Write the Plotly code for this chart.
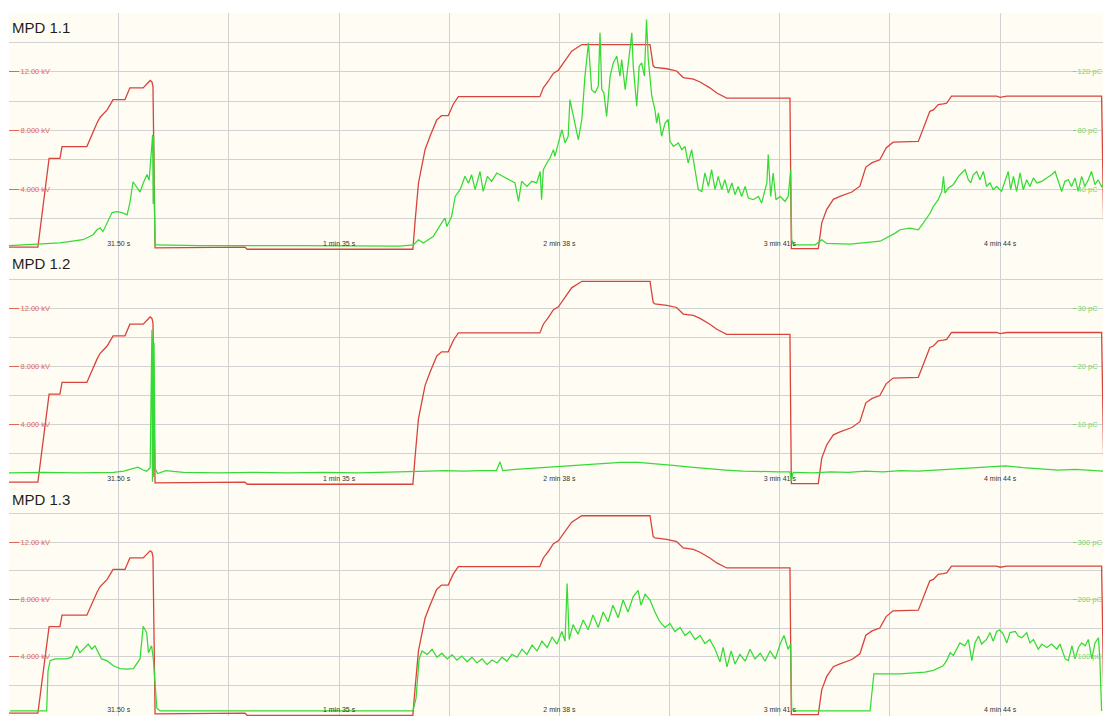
import plotly.graph_objects as go

# ---- shared high-voltage ramp (kV) -------------------------------------
t_hv = [0.0, 8.4, 11.6, 14.7, 15.3, 22.4, 25.3, 26.2, 28.2, 29.9, 33.3, 34.7, 38.5,
        39.9, 40.5, 41.0, 41.3, 41.9, 67.6, 68.2, 115.6, 116.2, 117.2, 118.1, 119.1,
        120.5, 122.4, 123.8, 125.7, 127.2, 128.6, 151.9, 152.9, 154.3, 155.8, 157.2,
        161.0, 163.9, 183.4, 184.3, 184.8, 188.2, 191.0, 192.9, 195.8, 197.7, 200.5,
        202.5, 205.3, 223.4, 223.8, 231.5, 232.5, 233.9, 235.8, 237.7, 241.1, 243.4,
        245.1, 246.9, 249.1, 250.9, 252.9, 260.1, 262.0, 263.4, 264.4, 265.8, 267.2,
        268.2, 269.6, 282.5, 283.5, 285.4, 312.5, 312.8, 313.2]
hv_kv = [0.05, 0.05, 6.1, 6.1, 6.9, 6.9, 8.5, 8.9, 9.4, 10.1, 10.1, 10.9, 10.9,
         11.3, 11.4, 11.3, 11.0, 0.0, 0.05, -0.1, -0.1, 1.7, 4.4, 5.5, 6.7,
         7.6, 8.7, 9.0, 9.0, 9.8, 10.3, 10.3, 10.9, 11.35, 11.9, 12.1,
         13.4, 13.85, 13.85, 12.4, 12.3, 12.2, 12.05, 11.6, 11.5, 11.3, 10.9,
         10.55, 10.2, 10.2, -0.05, -0.05, 1.7, 2.6, 3.3, 3.5, 3.8, 4.2,
         5.5, 5.8, 6.0, 6.8, 7.2, 7.25, 8.4, 9.3, 9.4, 9.76, 9.8,
         9.85, 10.33, 10.33, 10.25, 10.33, 10.33, 5.0, 0.0]

# ---- partial discharge, MPD 1.1 (pC) ------------------------------------
t_pd1 = [0.1, 14.7, 21.3, 24.2, 25.3, 26.2, 27.0, 28.2, 29.6, 31.0, 32.4, 33.9, 34.7,
         35.6, 36.7, 37.6, 38.5, 39.6, 40.2, 41.0, 41.2, 41.35, 41.5, 41.65, 41.9, 42.5,
         54.7, 83.3, 111.9, 115.7, 117.2, 118.6, 121.4, 123.8, 124.8, 125.3, 126.7,
         127.7, 129.1, 130.5, 131.5, 132.4, 133.4, 134.8, 135.7, 136.9, 138.1, 139.6,
         141.5, 143.4, 144.8, 145.8, 146.7, 148.2, 149.6, 151.0, 152.0, 152.4, 152.9,
         153.9, 154.8, 155.8, 156.2, 157.2, 158.2, 159.1, 160.0, 160.5, 161.5, 162.2,
         162.9, 163.9, 164.8, 165.8, 166.7, 167.7, 168.6, 169.1, 169.6, 170.2, 171.0,
         172.0, 172.9, 173.9, 174.8, 175.3, 176.3, 177.2, 178.2, 178.6, 179.6, 180.3,
         181.0, 181.8, 182.4, 182.9, 183.9, 184.8, 185.3, 185.8, 186.7, 187.7, 188.6,
         189.1, 190.1, 191.5, 192.5, 193.4, 194.3, 195.3, 196.3, 197.2, 198.2, 199.1,
         200.1, 201.0, 202.0, 202.9, 203.9, 204.8, 205.8, 206.8, 207.7, 208.6, 209.6,
         210.6, 211.5, 212.9, 214.4, 215.3, 216.8, 217.2, 217.9, 218.6, 219.4, 220.6,
         222.0, 222.9, 223.6, 223.9, 224.4, 230.6, 232.5, 233.9, 240.6, 249.2, 253.5,
         254.9, 257.7, 260.1, 261.5, 263.5, 264.4, 265.8, 266.8, 267.3, 267.7, 268.7,
         270.1, 271.6, 272.5, 273.5, 274.4, 275.1, 275.8, 276.8, 277.7, 278.7, 279.6,
         280.6, 281.5, 282.5, 283.9, 284.9, 285.8, 286.5, 287.3, 288.2, 289.2, 290.1,
         291.1, 292.0, 293.0, 294.0, 295.4, 296.8, 298.2, 299.2, 300.1, 301.1, 302.0,
         303.0, 303.9, 304.9, 305.8, 306.8, 307.7, 308.7, 309.6, 310.6, 311.5, 312.5, 313.2]
pd1_pc = [1.4, 3.4, 5.5, 8.9, 12.3, 13.6, 11.0, 17.0, 24.0, 24.6, 24.0, 22.5, 30.7,
          45.0, 41.6, 38.0, 44.0, 50.0, 46.0, 74.0, 77.0, 30.0, 76.0, 35.0, 2.0, 2.0,
          1.4, 1.4, 1.2, 2.0, 5.5, 3.2, 7.7, 16.8, 20.3, 14.5, 21.4,
          35.0, 39.6, 48.7, 44.0, 49.8, 39.6, 52.0, 38.4, 48.7, 45.3, 51.0,
          48.7, 46.4, 44.2, 31.6, 45.3, 41.8, 45.3, 44.2, 52.0, 32.8, 53.2,
          57.8, 61.2, 66.9, 62.3, 71.5, 80.5, 71.5, 76.0, 101.0, 89.6, 80.5,
          73.7, 87.4, 117.0, 139.7, 107.8, 105.6, 110.0, 146.5, 107.8, 105.6, 89.6,
          117.0, 126.0, 130.6, 117.0, 128.3, 107.8, 126.0, 146.5, 123.8, 96.5, 123.8,
          126.0, 117.0, 155.6, 128.3, 103.3, 94.2, 85.0, 92.0, 76.0, 85.0, 87.4,
          72.6, 69.1, 71.5, 66.9, 69.1, 57.8, 66.9, 53.2, 39.6, 38.4, 51.0,
          41.8, 53.2, 39.6, 48.7, 39.6, 46.4, 37.3, 44.2, 36.2, 41.8, 35.0,
          41.8, 33.9, 32.8, 35.0, 30.5, 44.2, 63.5, 35.0, 51.0, 32.8, 35.0,
          31.6, 35.0, 53.2, 5.5, 2.0, 2.0, 5.5, 3.0, 2.5, 4.5, 10.0,
          12.3, 13.4, 12.3, 16.8, 23.7, 28.2, 32.8, 38.4, 48.7, 37.3, 40.7,
          43.0, 48.7, 51.0, 53.2, 46.4, 44.2, 49.8, 52.0, 46.4, 52.0, 41.8,
          44.2, 39.6, 41.8, 38.4, 46.4, 52.0, 39.6, 48.7, 38.4, 51.0, 39.6,
          46.4, 41.8, 47.6, 44.2, 45.3, 47.6, 49.8, 52.0, 45.3, 38.4, 45.3,
          46.4, 41.8, 47.6, 38.4, 48.7, 41.8, 46.4, 52.0, 43.0, 46.4, 41.8, 44.0]

# ---- partial discharge, MPD 1.2 (pC) ------------------------------------
t_pd2 = [0.1, 10, 20, 30, 33, 35.6, 37.0, 38.5, 39.5, 40.5,
         41.0, 41.15, 41.3, 41.45, 41.6, 41.9, 42.6, 45, 50, 60,
         70, 80, 90, 100, 110, 115, 120, 125, 130, 135,
         139.5, 140.5, 141.3, 145, 150, 155, 160, 165, 170, 175,
         180, 185, 190, 195, 200, 205, 210, 215, 220, 223.4,
         223.8, 224.3, 230, 235, 240, 245, 250, 255, 260, 265,
         270, 275, 280, 285, 290, 295, 300, 305, 310, 313.2]
pd2_pc = [1.7, 1.8, 1.7, 1.8, 2.0, 2.4, 2.7, 2.2, 2.0, 2.6,
          26.3, 0.2, 25.0, 1.0, 24.0, 2.5, 1.6, 2.1, 1.8, 1.7,
          1.8, 1.7, 1.8, 1.7, 1.8, 1.9, 2.0, 2.1, 2.0, 2.1,
          2.1, 3.6, 2.1, 2.3, 2.5, 2.8, 3.0, 3.2, 3.4, 3.5,
          3.5, 3.3, 3.0, 2.7, 2.4, 2.2, 2.0, 1.9, 1.9, 1.9,
          0.3, 1.8, 1.7, 1.9, 1.8, 2.0, 1.9, 2.1, 2.0, 2.2,
          2.4, 2.6, 2.8, 2.9, 2.6, 2.4, 2.2, 2.3, 2.1, 2.0]

# ---- partial discharge, MPD 1.3 (pC) ------------------------------------
t_pd3 = [0.4, 10.9, 11.3, 11.9, 13.3, 16.6, 18.1, 19.0, 19.5, 20.4, 21.9, 22.8, 23.8,
         24.7, 25.7, 26.6, 28.1, 30.0, 31.9, 33.8, 35.7, 36.7, 37.6, 38.5, 39.5, 40.0,
         40.9, 41.4, 42.4, 43.3, 80.0, 115.6, 116.5, 117.4, 118.2, 119.7, 121.1, 122.5,
         123.9, 125.4, 126.8, 128.2, 129.6, 131.1, 132.5, 133.9, 135.4, 136.8, 138.2,
         139.7, 141.1, 142.5, 143.9, 145.4, 146.8, 148.2, 149.7, 151.1, 152.5, 154.0,
         155.4, 156.8, 158.2, 159.1, 159.7, 160.3, 161.4, 162.8, 164.3, 165.7, 167.1,
         168.6, 170.0, 171.4, 172.8, 174.3, 175.7, 177.1, 178.6, 180.0, 180.8, 182.0,
         183.4, 184.8, 186.2, 187.7, 189.1, 190.5, 192.0, 193.4, 194.8, 196.3, 197.7,
         199.1, 200.5, 202.0, 203.4, 204.3, 205.4, 206.6, 207.7, 209.1, 210.6, 212.0,
         213.4, 214.9, 216.3, 217.7, 219.2, 220.6, 221.7, 222.9, 223.6, 223.9, 224.9,
         246.3, 247.4, 254.9, 262.0, 264.4, 267.2, 268.2, 269.2, 270.1, 272.0, 273.4,
         274.4, 275.4, 276.3, 277.3, 278.2, 279.6, 280.6, 281.5, 282.5, 283.4, 284.4,
         285.4, 286.3, 287.8, 288.7, 289.7, 291.1, 292.0, 293.0, 294.4, 295.4, 296.8,
         298.2, 299.7, 300.6, 302.1, 303.0, 304.0, 304.9, 305.9, 306.8, 307.8, 308.7,
         309.7, 310.6, 311.6, 312.0, 312.5]
pd3_pc = [5, 5, 75, 93, 96, 96, 99, 110, 119, 107, 116, 122, 113,
          119, 107, 96, 93, 84, 79, 78, 79, 87, 96, 153, 142, 107,
          119, 96, 10, 5, 5, 5, 27, 96, 110, 104, 113, 99,
          106, 96, 103, 94, 101, 91, 99, 89, 96, 86, 94,
          89, 99, 92, 104, 99, 113, 104, 120, 110, 127, 116,
          134, 122, 144, 127, 228, 130, 156, 139, 164, 147, 173,
          151, 178, 161, 190, 168, 199, 178, 205, 216, 190, 209,
          199, 178, 161, 151, 158, 144, 151, 137, 144, 130, 137,
          123, 130, 113, 91, 116, 82, 110, 87, 104, 92, 113,
          96, 106, 92, 110, 96, 122, 137, 113, 122, 7, 5,
          5, 70, 70, 73, 76, 84, 93, 107, 102, 124, 119,
          130, 93, 124, 136, 122, 130, 142, 127, 144, 147, 139,
          124, 142, 144, 136, 133, 142, 124, 130, 113, 122, 116,
          122, 113, 122, 96, 93, 119, 96, 116, 124, 119, 130,
          96, 124, 133, 96, 5]

assert len(t_hv) == len(hv_kv)
assert len(t_pd1) == len(pd1_pc), (len(t_pd1), len(pd1_pc))
assert len(t_pd2) == len(pd2_pc)
assert len(t_pd3) == len(pd3_pc), (len(t_pd3), len(pd3_pc))

# ---- axis definitions -----------------------------------------------------
channel_names = ["MPD 1.1", "MPD 1.2", "MPD 1.3"]
pd_series = [(t_pd1, pd1_pc), (t_pd2, pd2_pc), (t_pd3, pd3_pc)]
pd_ranges = [[-1.5, 160], [-0.375, 40], [-3.75, 400]]
pd_ticks = [[40, 80, 120], [10, 20, 30], [100, 200, 300]]
kv_ticks = [4, 8, 12]
kv_ticktext = ["4.000 kV", "8.000 kV", "12.00 kV"]
time_grid = [31.5, 63, 94.5, 126, 157.5, 189, 220.5, 252, 283.5]
time_labels = ["31.50 s", "", "1 min 35 s", "", "2 min 38 s", "", "3 min 41 s", "", "4 min 44 s"]

W, H = 1103, 716
panel_px = [(13, 250), (250, 485), (485, 716)]   # top/bottom of each strip
x_range = [0.14, 312.9]

RED = "#d8433c"
GREEN = "#36da36"
RED_TXT = "#e0685a"
GREEN_TXT = "#6fd86f"
GRID = "#d2d2d2"
BG = "#fffdf3"
FONT = "Liberation Sans, Arial, sans-serif"

fig = go.Figure()
layout = dict(
    width=W, height=H,
    margin=dict(l=0, r=0, t=0, b=0, autoexpand=False),
    paper_bgcolor="white",
    plot_bgcolor=BG,
    showlegend=False,
    font=dict(family=FONT),
    annotations=[],
)

for i in range(3):
    n = i + 1
    xa = "x" if n == 1 else f"x{n}"
    ya = "y" if n == 1 else f"y{n}"
    ya_pd = f"y{n + 3}"
    top, bot = panel_px[i]
    dom = [1 - bot / H, 1 - top / H]

    fig.add_trace(go.Scatter(x=pd_series[i][0], y=pd_series[i][1], mode="lines",
                             line=dict(color=GREEN, width=1.25), xaxis=xa, yaxis=ya_pd,
                             hoverinfo="skip"))
    fig.add_trace(go.Scatter(x=t_hv, y=hv_kv, mode="lines",
                             line=dict(color=RED, width=1.3), xaxis=xa, yaxis=ya,
                             hoverinfo="skip"))

    layout[f"xaxis{'' if n == 1 else n}"] = dict(
        domain=[9 / W, 1], range=x_range, anchor=ya,
        tickvals=time_grid, ticktext=time_labels,
        ticklabelposition="inside", ticks="",
        tickfont=dict(size=7, color="#333333"),
        showgrid=True, gridcolor=GRID, gridwidth=1,
        zeroline=False, showline=False, automargin=False,
        **({} if n == 1 else {"matches": "x"}),
    )
    layout[f"yaxis{'' if n == 1 else n}"] = dict(
        domain=dom, range=[-0.15, 16], anchor=xa,
        tickvals=kv_ticks, ticktext=kv_ticktext,
        ticks="inside", ticklen=10, tickcolor=RED_TXT, tickwidth=1,
        ticklabelposition="inside",
        tickfont=dict(size=7.5, color=RED_TXT),
        showgrid=True, gridcolor=GRID,
        minor=dict(tick0=0, dtick=2, showgrid=True, gridcolor=GRID, ticks=""),
        zeroline=False, showline=False, automargin=False,
    )
    layout[f"yaxis{n + 3}"] = dict(
        overlaying=ya, side="right", anchor="free", position=0.972,
        range=pd_ranges[i],
        tickvals=pd_ticks[i], ticktext=[f"{v} pC" for v in pd_ticks[i]],
        ticks="outside", ticklen=3, tickcolor=GREEN_TXT,
        tickfont=dict(size=7.5, color=GREEN_TXT),
        showgrid=False, zeroline=False, showline=False,
        automargin=False, autoshift=False,
    )
    layout["annotations"].append(dict(
        text=channel_names[i], xref="paper", yref="paper",
        x=10 / W, y=1 - (top + 14) / H, xanchor="left", yanchor="middle",
        showarrow=False, font=dict(size=15, color="#1e1e1e", family=FONT),
    ))

fig.update_layout(**layout)
fig.write_html("out.html")
